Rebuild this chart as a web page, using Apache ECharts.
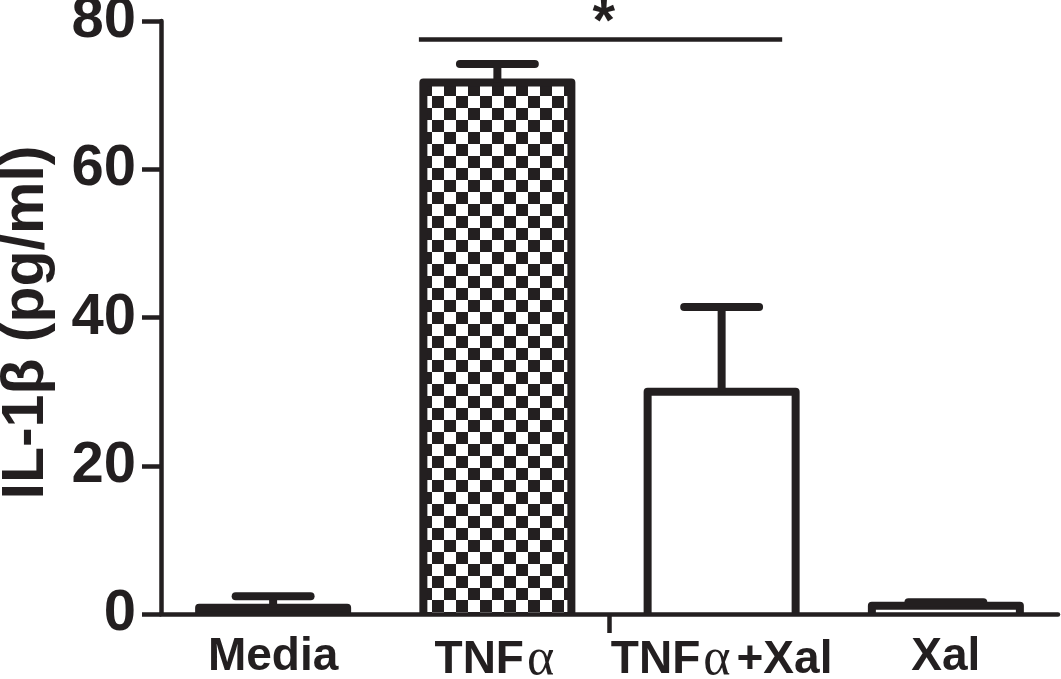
<!DOCTYPE html>
<html>
<head>
<meta charset="utf-8">
<script src="https://cdn.jsdelivr.net/npm/echarts@6/dist/echarts.min.js"></script>
<style>
html,body{margin:0;padding:0;background:#fff;}
#c{width:1061px;height:679px;}
</style>
</head>
<body>
<div id="c"></div>
<script>
const categories = ['Media', 'TNFα', 'TNFα+Xal', 'Xal'];
const means = [0.85, 71.7, 30.0, 1.12];
const errors = [1.55, 2.5, 11.4, 0.45];
const yTicks = [0, 20, 40, 60, 80];
const sigLine = [[0.65, 77.5], [2.27, 77.5]];
const sigMark = [[1.475, 79.6]];
const sigText = '*';
const yTitle = 'IL-1β (pg/ml)';

const INK = '#231f20';
const FONT = '"Liberation Sans", Arial, Helvetica, sans-serif';
const BAR_FRAC = 0.66;

// checkerboard pattern
const pc = document.createElement('canvas');
pc.width = 24; pc.height = 24;
const pctx = pc.getContext('2d');
pctx.fillStyle = '#ffffff'; pctx.fillRect(0, 0, 24, 24);
pctx.fillStyle = INK;
pctx.fillRect(0, 0, 12, 12);
pctx.fillRect(12, 12, 12, 12);

const barData = means.map((v, i) => ({
  value: v,
  itemStyle: {
    color: i === 1 ? { image: pc, repeat: 'repeat' } : (i === 0 ? INK : '#ffffff')
  }
}));
const errData = means.map((v, i) => [i, v, errors[i]]);
const outlineData = means.map((v, i) => [i, v]);

const chart = echarts.init(document.getElementById('c'), null, { renderer: 'canvas' });
chart.setOption({
  animation: false,
  backgroundColor: '#ffffff',
  grid: { left: 161, right: 3, top: 21, bottom: 65, containLabel: false, outerBoundsMode: 'none' },
  xAxis: [
    {
      type: 'category',
      data: categories,
      position: 'bottom',
      boundaryGap: true,
      z: 5,
      axisLine: { show: true, onZero: false, lineStyle: { color: INK, width: 4.5 } },
      axisTick: { show: false },
      axisLabel: {
        show: true,
        interval: 0,
        margin: 20,
        color: INK,
        fontFamily: FONT,
        fontWeight: 'bold',
        fontSize: 46,
        formatter: v => v.replace('α', '{g|α}'),
        rich: {
          g: { fontFamily: '"Liberation Serif", "Times New Roman", serif', fontWeight: 'normal', fontSize: 52, color: INK, padding: [0, 6, 0, 3] }
        }
      },
      splitLine: { show: false }
    },
    {
      type: 'value',
      min: -0.5,
      max: 3.5,
      position: 'bottom',
      axisLine: { show: false, onZero: false },
      axisLabel: { show: false },
      splitLine: { show: false },
      axisTick: { show: true, customValues: [1.5], length: 19, lineStyle: { color: INK, width: 4.5 } }
    }
  ],
  yAxis: {
    type: 'value',
    min: 0,
    max: 80,
    interval: 20,
    name: yTitle,
    nameLocation: 'middle',
    nameRotate: 90,
    nameGap: 105,
    nameTextStyle: { color: INK, fontFamily: FONT, fontWeight: 'bold', fontSize: 59, padding: [0, 10, 0, 0] },
    axisLine: { show: true, onZero: false, lineStyle: { color: INK, width: 4.5 } },
    axisTick: { show: true, length: 19, lineStyle: { color: INK, width: 4.5 } },
    axisLabel: {
      margin: 25,
      color: INK,
      fontFamily: FONT,
      fontWeight: 'bold',
      fontSize: 58,
      padding: [4, 0, 0, 0],
      customValues: yTicks
    },
    splitLine: { show: false }
  },
  series: [
    {
      type: 'bar',
      xAxisIndex: 0,
      data: barData,
      barWidth: (BAR_FRAC * 100) + '%',
      itemStyle: { borderWidth: 0 },
      z: 2
    },
    {
      type: 'custom',
      xAxisIndex: 0,
      data: outlineData,
      encode: { x: 0, y: 1 },
      z: 3,
      renderItem: function (params, api) {
        const i = api.value(0), m = api.value(1);
        const base = api.coord([i, 0]);
        const top = api.coord([i, m]);
        const hw = api.size([1, 0])[0] * BAR_FRAC / 2;
        return {
          type: 'polyline',
          shape: { points: [[top[0] - hw, base[1]], [top[0] - hw, top[1]], [top[0] + hw, top[1]], [top[0] + hw, base[1]]] },
          style: { stroke: INK, lineWidth: 8, lineJoin: 'round', fill: null }
        };
      }
    },
    {
      type: 'custom',
      xAxisIndex: 0,
      data: errData,
      encode: { x: 0, y: 1 },
      z: 3,
      renderItem: function (params, api) {
        const i = api.value(0), m = api.value(1), e = api.value(2);
        const base = api.coord([i, m]);
        const top = api.coord([i, m + e]);
        const hw = api.size([1, 0])[0] * 0.167;
        return {
          type: 'group',
          children: [
            { type: 'line', shape: { x1: base[0], y1: base[1], x2: top[0], y2: top[1] }, style: { stroke: INK, lineWidth: 8 } },
            { type: 'line', shape: { x1: top[0] - hw, y1: top[1], x2: top[0] + hw, y2: top[1] }, style: { stroke: INK, lineWidth: 8, lineCap: 'round' } }
          ]
        };
      }
    },
    {
      type: 'line',
      xAxisIndex: 1,
      data: sigLine,
      symbol: 'none',
      clip: false,
      lineStyle: { color: INK, width: 4.5 },
      z: 4
    },
    {
      type: 'scatter',
      xAxisIndex: 1,
      data: sigMark,
      symbolSize: 0,
      clip: false,
      itemStyle: { opacity: 1 },
      label: {
        show: true,
        position: 'inside',
        formatter: sigText,
        color: INK,
        opacity: 1,
        fontFamily: FONT,
        fontWeight: 'bold',
        fontSize: 58
      },
      z: 4
    }
  ]
});
</script>
</body>
</html>
